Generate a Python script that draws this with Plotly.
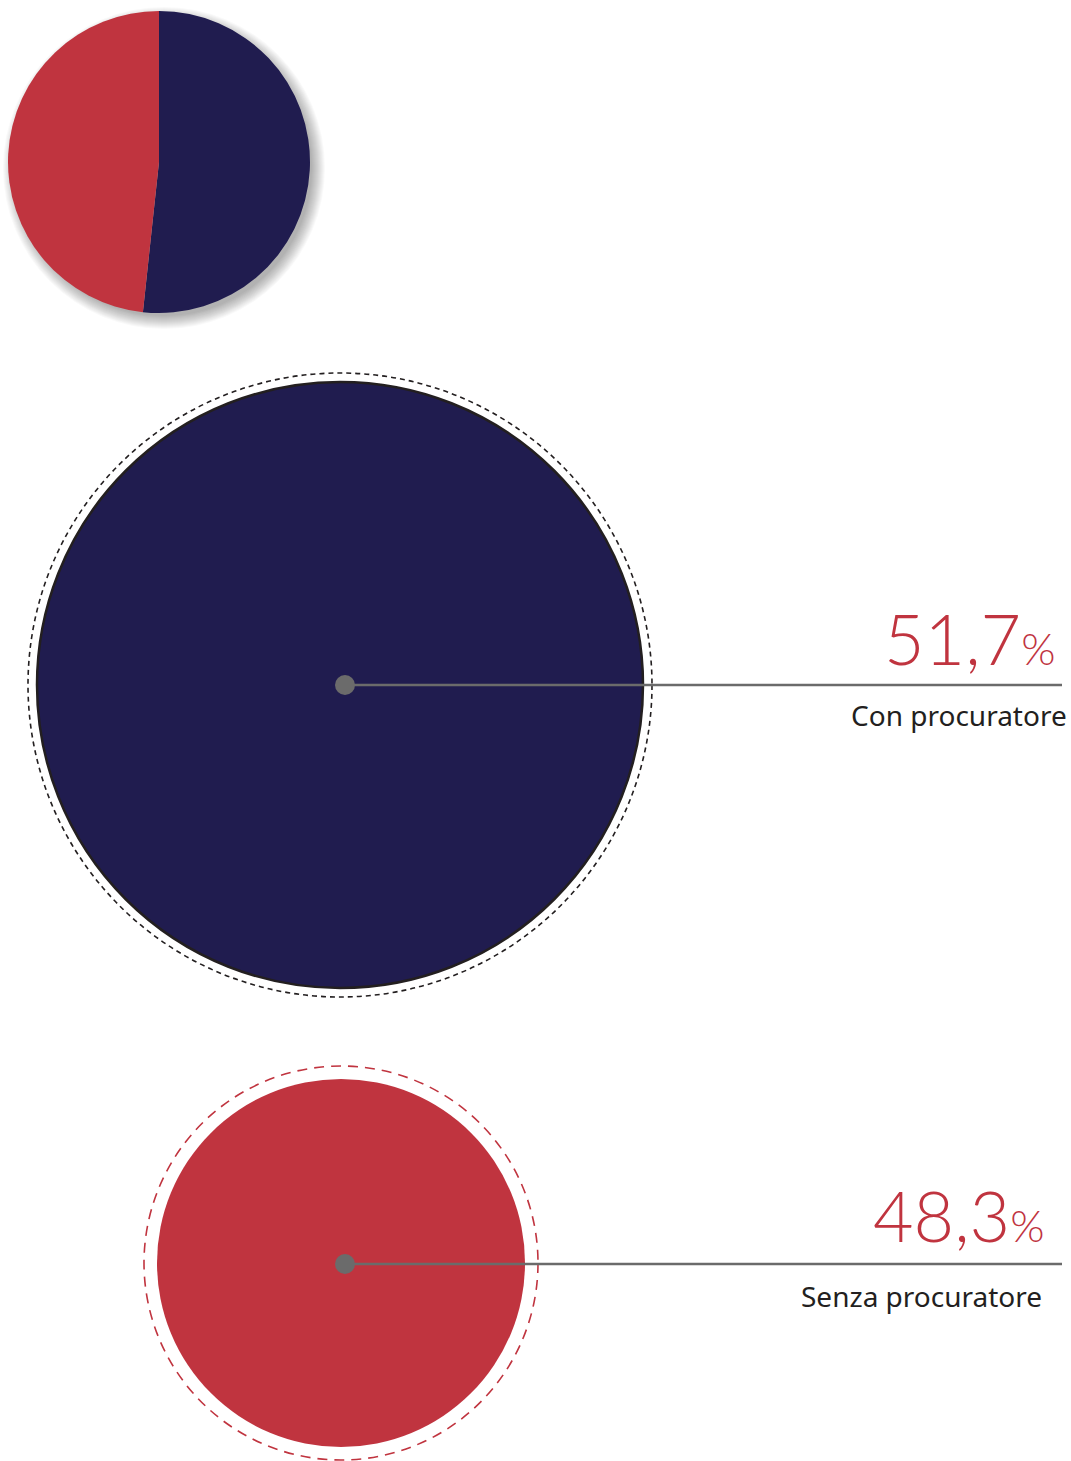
import plotly.graph_objects as go

# ---- data ----
categories = ["Con procuratore", "Senza procuratore"]
values = [51.7, 48.3]
value_labels = ["51,7", "48,3"]

NAVY = "#201c4f"
RED = "#c0343f"
GRAY = "#6b6b6b"
DARK = "#231f20"

W, H = 1071, 1461

fig = go.Figure()

# small pie (top-left)
pcx, pcy, pr = 159, 162, 151
fig.add_trace(go.Pie(
    values=values, labels=categories, sort=False, direction="clockwise", rotation=0,
    marker=dict(colors=[NAVY, RED], line=dict(width=0)),
    textinfo="none", hoverinfo="label+percent", showlegend=False,
    domain=dict(x=[(pcx - pr) / W, (pcx + pr) / W],
                y=[1 - (pcy + pr) / H, 1 - (pcy - pr) / H]),
))

shapes = []
# soft shadow under the pie
for i in range(14):
    r = pr - 3 + i * 1.0
    shapes.append(dict(type="circle", xref="x", yref="y", layer="below",
                       x0=pcx + 5 - r, x1=pcx + 5 + r, y0=pcy + 6 - r, y1=pcy + 6 + r,
                       fillcolor="rgba(0,0,0,0.022)", line=dict(width=0)))

# big circles
circles = [
    dict(cx=340, cy=685, r=303, rd=312, color=NAVY, outline=DARK, dashcol=DARK, dash="5px,4px"),
    dict(cx=341, cy=1263, r=184, rd=197, color=RED, outline=None, dashcol=RED, dash="10px,7px"),
]
for c in circles:
    shapes.append(dict(type="circle", xref="x", yref="y",
                       x0=c["cx"] - c["rd"], x1=c["cx"] + c["rd"],
                       y0=c["cy"] - c["rd"], y1=c["cy"] + c["rd"],
                       line=dict(color=c["dashcol"], width=1.6, dash=c["dash"])))
    shapes.append(dict(type="circle", xref="x", yref="y",
                       x0=c["cx"] - c["r"], x1=c["cx"] + c["r"],
                       y0=c["cy"] - c["r"], y1=c["cy"] + c["r"],
                       fillcolor=c["color"],
                       line=dict(color=c["outline"] or c["color"], width=2.5 if c["outline"] else 0)))

# leader lines and dots
leaders = [dict(y=685, x0=345, x1=1062), dict(y=1264, x0=345, x1=1062)]
for l in leaders:
    shapes.append(dict(type="line", xref="x", yref="y", x0=l["x0"], x1=l["x1"], y0=l["y"], y1=l["y"],
                       line=dict(color=GRAY, width=2.5)))
    shapes.append(dict(type="circle", xref="x", yref="y", x0=l["x0"] - 10, x1=l["x0"] + 10,
                       y0=l["y"] - 10, y1=l["y"] + 10, fillcolor=GRAY, line=dict(width=0)))

annotations = []
label_pos = [dict(vx=1057, vy=682, lx=1069, ly=694), dict(vx=1046, vy=1259, lx=1044, ly=1275)]
for i, p in enumerate(label_pos):
    annotations.append(dict(
        x=p["vx"], y=p["vy"], xref="x", yref="y", xanchor="right", yanchor="bottom",
        text=f"{value_labels[i]}<span style='font-size:44px'>%</span>",
        showarrow=False, font=dict(family="Lato", size=70, color=RED, weight=300)))
    annotations.append(dict(
        x=p["lx"], y=p["ly"], xref="x", yref="y", xanchor="right", yanchor="top",
        text=categories[i], showarrow=False,
        font=dict(family="Noto Sans", size=28, color=DARK)))

fig.update_layout(
    width=W, height=H, margin=dict(l=0, r=0, t=0, b=0),
    paper_bgcolor="white", plot_bgcolor="white",
    xaxis=dict(range=[0, W], visible=False, fixedrange=True),
    yaxis=dict(range=[H, 0], visible=False, fixedrange=True),
    shapes=shapes, annotations=annotations, showlegend=False,
)

fig.write_html("out.html", config={"displayModeBar": False},
               post_script="document.body.style.margin='0';document.body.style.overflow='hidden';")
